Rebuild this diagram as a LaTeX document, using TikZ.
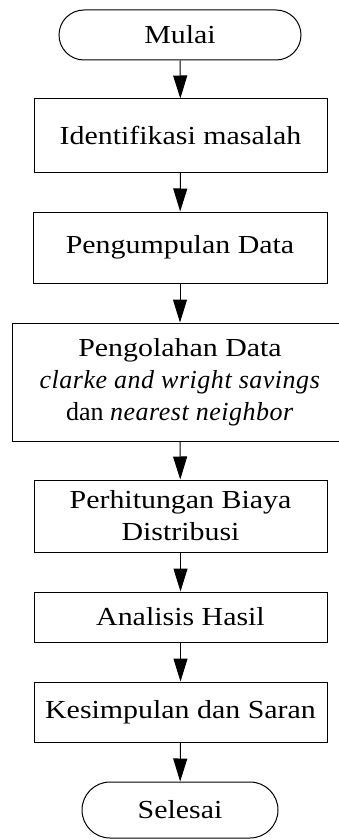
\documentclass[tikz,border=0pt]{standalone}
\usepackage{fontspec}
\setmainfont[ItalicFeatures={LetterSpace=2}]{Liberation Serif}
\usetikzlibrary{arrows.meta}
% widen each upright text line a little, as the flowchart's lettering is broad
\newcommand\sline[1]{\scalebox{1.15}[1]{#1}}
\begin{document}
\begin{tikzpicture}[x=1pt,y=-1pt,
  box/.style={draw,line width=1pt,rectangle,inner sep=0pt,align=center,
    font=\fontsize{26}{32}\selectfont},
  term/.style={box,rounded corners=25pt},
  flow/.style={line width=1pt,-{Triangle[length=23pt,width=14pt]}}]
\useasboundingbox (0,0) rectangle (339,840);
\clip (0,0) rectangle (339,840);
\node[term,minimum width=242pt,minimum height=50pt] (start) at (180,35) {\sline{Mulai}};
\node[box,minimum width=293pt,minimum height=73pt] (idn) at (180.5,135.5) {\sline{Identifikasi masalah}};
\node[box,minimum width=294pt,minimum height=71pt] (col) at (180,247.5) {\sline{Pengumpulan Data}};
\node[box,minimum width=336pt,minimum height=118pt] (proc) at (180,382)
  {\sline{Pengolahan Data}\\ \textit{clarke and wright savings}\\ dan \textit{nearest neighbor}};
\node[box,minimum width=293pt,minimum height=72pt] (cost) at (180.5,516) {\sline{Perhitungan Biaya}\\ \sline{Distribusi}};
\node[box,minimum width=293pt,minimum height=50pt] (ana) at (180.5,617) {\sline{Analisis Hasil}};
\node[box,minimum width=293pt,minimum height=60pt] (conc) at (180.5,712) {\sline{Kesimpulan dan Saran}};
\node[term,rounded corners=28pt,minimum width=196pt,minimum height=56pt] (stop) at (180,810) {\sline{Selesai}};
\draw[flow] (start) -- (idn);
\draw[flow] (idn) -- (col);
\draw[flow] (col) -- (col |- proc.north);
\draw[flow] (proc.south -| col) -- (cost);
\draw[flow] (cost) -- (ana);
\draw[flow] (ana) -- (conc);
\draw[flow] (conc) -- (stop);
\end{tikzpicture}
\end{document}
